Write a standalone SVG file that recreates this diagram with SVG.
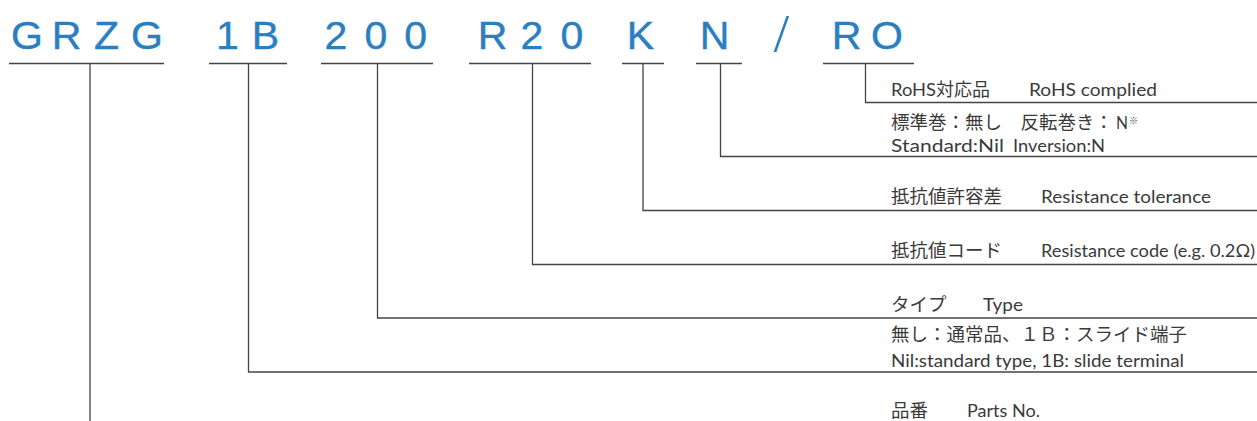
<svg xmlns="http://www.w3.org/2000/svg" width="1257" height="421" viewBox="0 0 1257 421">
<style>
.t{font-family:"Liberation Sans",Arial,sans-serif;font-size:38px;fill:#2a7fc1;stroke:#2a7fc1;stroke-width:.4}
.l{font-family:"Lato","Noto Sans",sans-serif;font-size:17px;fill:#3a3a3a}
.j{font-family:"Noto Sans CJK JP","Noto Sans",sans-serif;font-size:18.5px;fill:#3a3a3a}
.c{fill:none;stroke:#444;stroke-width:1.3}
</style>
<rect width="1257" height="421" fill="#fff"/>
<g id="part-number">
<text class="t" transform="scale(1.08 1)" x="10.200 48 87 121.300 200 233.100 300.400 337.400 374.400 442.400 481.900 518.900 580.400 648" y="49">GRZG1B200R20KN</text>
<text class="t" transform="scale(1.08 1)" x="770.200 806.500" y="49">RO</text>
<text class="t" style="stroke:#fff;stroke-width:1.8;font-size:52px" transform="translate(772 53) scale(1.3 1)" x="0" y="0">/</text>
</g>
<g id="connectors" class="c">
<path d="M9 63.500H164M209 63.500H287M321 63.500H433M469 63.500H591M622 63.500H664M696 63.500H742M823 63.500H914"/>
<path d="M90 64V421"/>
<path d="M248.500 64V372H1257"/>
<path d="M377.500 64V318H1257"/>
<path d="M532.500 64V264.500H1257"/>
<path d="M643 64V210.500H1257"/>
<path d="M720.500 64V156.500H1257"/>
<path d="M865.500 64V102.500H1257"/>
</g>
<g id="label-ro"><text class="l" x="891" y="96" textLength="45" lengthAdjust="spacingAndGlyphs">RoHS</text><text class="j" x="936" y="96" style="font-size:18px">対応品</text><text class="l" x="1029" y="96" textLength="128" lengthAdjust="spacingAndGlyphs">RoHS complied</text></g>
<g id="label-n"><text class="j" x="891" y="129">標準巻：無し　反転巻き：</text><text class="l" x="1116" y="129" textLength="12" lengthAdjust="spacingAndGlyphs">N</text><text class="j" x="1129" y="124" style="font-size:9px">※</text><text class="l" x="891" y="152" textLength="113" lengthAdjust="spacingAndGlyphs">Standard:Nil</text><text class="l" x="1013" y="152" textLength="92" lengthAdjust="spacingAndGlyphs">Inversion:N</text></g>
<g id="label-k"><text class="j" x="891" y="203">抵抗値許容差</text><text class="l" x="1041" y="203" textLength="170" lengthAdjust="spacingAndGlyphs">Resistance tolerance</text></g>
<g id="label-r20"><text class="j" x="891" y="257">抵抗値コード</text><text class="l" x="1041" y="257" textLength="214" lengthAdjust="spacingAndGlyphs">Resistance code (e.g. 0.2Ω)</text></g>
<g id="label-200"><text class="j" x="891" y="311">タイプ</text><text class="l" x="983" y="311" textLength="40" lengthAdjust="spacingAndGlyphs">Type</text></g>
<g id="label-1b"><text class="j" x="891" y="341">無し：通常品、１Ｂ：スライド端子</text><text class="l" x="891" y="367" textLength="293" lengthAdjust="spacingAndGlyphs">Nil:standard type, 1B: slide terminal</text></g>
<g id="label-grzg"><text class="j" x="891" y="416.500">品番</text><text class="l" x="967" y="417" textLength="73" lengthAdjust="spacingAndGlyphs">Parts No.</text></g>
</svg>
